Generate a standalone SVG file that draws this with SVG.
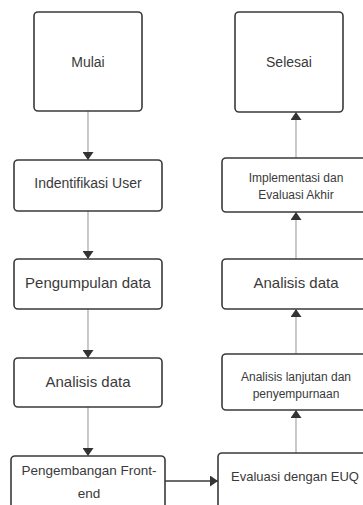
<svg xmlns="http://www.w3.org/2000/svg" width="363" height="505" viewBox="0 0 363 505">
<defs>
<style>
.box{fill:#fff;stroke:#3a3a3a;stroke-width:1.6}
.t{font-family:"Liberation Sans",Arial,sans-serif;fill:#3a3a3a;text-anchor:middle}
.c{fill:none;stroke:#a6a6a6;stroke-width:1.2}
.cd{fill:none;stroke:#3a3a3a;stroke-width:1.4}
</style>
<marker id="ah" viewBox="0 0 8 11" refX="8" refY="5.5" markerWidth="8" markerHeight="11" markerUnits="userSpaceOnUse" orient="auto">
<path d="M0,0 L8,5.5 L0,11 Z" fill="#333"/>
</marker>
</defs>
<rect width="363" height="505" fill="#fff"/>
<g id="connectors">
<line class="c" x1="88" y1="111" x2="88" y2="160" marker-end="url(#ah)"/>
<line class="c" x1="88" y1="211" x2="88" y2="259" marker-end="url(#ah)"/>
<line class="c" x1="88" y1="309" x2="88" y2="358" marker-end="url(#ah)"/>
<line class="c" x1="88" y1="407" x2="88" y2="456" marker-end="url(#ah)"/>
<line class="cd" x1="165" y1="481" x2="218" y2="481" marker-end="url(#ah)"/>
<line class="c" x1="296" y1="453" x2="296" y2="410" marker-end="url(#ah)"/>
<line class="c" x1="296" y1="354" x2="296" y2="309" marker-end="url(#ah)"/>
<line class="c" x1="296" y1="259" x2="296" y2="212" marker-end="url(#ah)"/>
<line class="c" x1="296" y1="158" x2="296" y2="112" marker-end="url(#ah)"/>
</g>
<g id="mulai">
<rect class="box" x="34" y="12" width="108" height="99" rx="4"/>
<text class="t" x="88" y="67" font-size="14">Mulai</text>
</g>
<g id="identifikasi">
<rect class="box" x="14" y="160" width="148" height="51" rx="4"/>
<text class="t" x="88" y="188" font-size="14">Indentifikasi User</text>
</g>
<g id="pengumpulan">
<rect class="box" x="14" y="259" width="148" height="50" rx="4"/>
<text class="t" x="88" y="287.5" font-size="15">Pengumpulan data</text>
</g>
<g id="analisis1">
<rect class="box" x="14" y="358" width="148" height="49" rx="4"/>
<text class="t" x="88" y="386.5" font-size="15">Analisis data</text>
</g>
<g id="pengembangan">
<rect class="box" x="11" y="456" width="154" height="60" rx="4"/>
<text class="t" x="89" y="475" font-size="13.5">Pengembangan Front-</text>
<text class="t" x="89" y="498" font-size="13.5">end</text>
</g>
<g id="evaluasi">
<rect class="box" x="218" y="453" width="156" height="62" rx="4"/>
<text class="t" x="295" y="481" font-size="13">Evaluasi dengan EUQ</text>
</g>
<g id="lanjutan">
<rect class="box" x="222" y="354" width="148" height="56" rx="4"/>
<text class="t" x="296" y="381" font-size="12">Analisis lanjutan dan</text>
<text class="t" x="296" y="398" font-size="12">penyempurnaan</text>
</g>
<g id="analisis2">
<rect class="box" x="222" y="259" width="148" height="50" rx="4"/>
<text class="t" x="296" y="287.5" font-size="15">Analisis data</text>
</g>
<g id="implementasi">
<rect class="box" x="222" y="158" width="148" height="54" rx="4"/>
<text class="t" x="296" y="182" font-size="12">Implementasi dan</text>
<text class="t" x="296" y="199" font-size="12">Evaluasi Akhir</text>
</g>
<g id="selesai">
<rect class="box" x="235" y="12" width="108" height="100" rx="4"/>
<text class="t" x="289" y="67" font-size="14">Selesai</text>
</g>
</svg>
